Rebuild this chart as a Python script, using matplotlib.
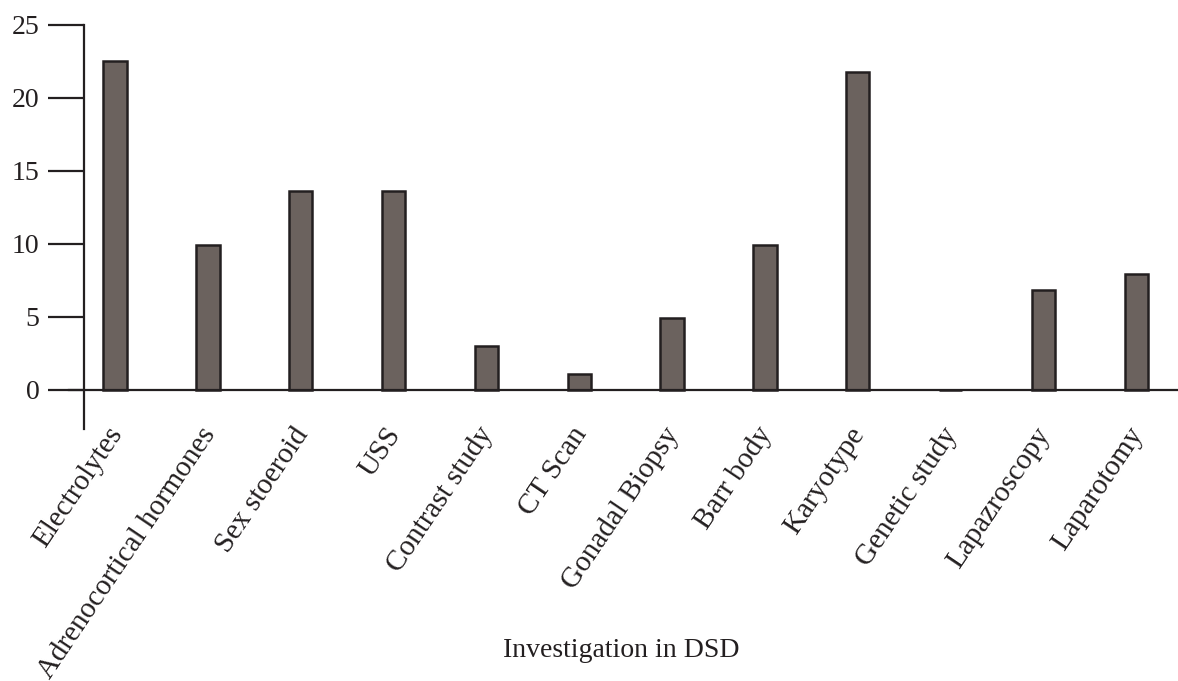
import matplotlib
matplotlib.use('Agg')
import matplotlib.pyplot as plt
import numpy as np

plt.rcParams['font.family'] = ['Liberation Serif', 'DejaVu Serif']

categories = ['Electrolytes', 'Adrenocortical hormones', 'Sex stoeroid', 'USS',
              'Contrast study', 'CT Scan', 'Gonadal Biopsy', 'Barr body',
              'Karyotype', 'Genetic study', 'Lapazroscopy', 'Laparotomy']
values = [22.5, 9.9, 13.6, 13.6, 3.0, 1.1, 4.9, 9.9, 21.8, 0, 6.8, 7.9]
yticks = [0, 5, 10, 15, 20, 25]

bar_color = '#6B625E'
edge_color = '#231F20'

fig = plt.figure(figsize=(11.78, 6.81), dpi=100)
ax = fig.add_axes([0.0586, 0.370, 0.9414, 0.5933])

x = np.arange(len(categories))
ax.bar(x, values, width=0.25, color=bar_color, edgecolor=edge_color,
       linewidth=1.8, zorder=3)

ax.set_xlim(-0.496, 11.45)
ax.set_ylim(-2.7, 25)

for s in ['top', 'right']:
    ax.spines[s].set_visible(False)
ax.spines['bottom'].set_position(('data', 0))
ax.spines['left'].set_position(('data', -0.334))
for s in ['bottom', 'left']:
    ax.spines[s].set_linewidth(1.6)
    ax.spines[s].set_color(edge_color)
    ax.spines[s].set_zorder(4)

ax.set_yticks(yticks)
ax.set_yticklabels([str(t) for t in yticks], fontsize=20, color=edge_color)
ax.tick_params(axis='y', direction='out', length=26, width=1.6,
               color=edge_color, pad=6)

ax.set_xticks(x)
ax.set_xticklabels([])
ax.tick_params(axis='x', length=0)

# rotated category labels hanging below the y-axis stub
for xi, lab in zip(x, categories):
    ax.text(xi + 0.02, -2.75, lab, rotation=56, rotation_mode='anchor',
            ha='right', va='center', fontsize=21, color=edge_color)

fig.text(0.527, 0.045, 'Investigation in DSD', ha='center', va='center',
         fontsize=20, color=edge_color)

fig.savefig('out.png', dpi=100)
